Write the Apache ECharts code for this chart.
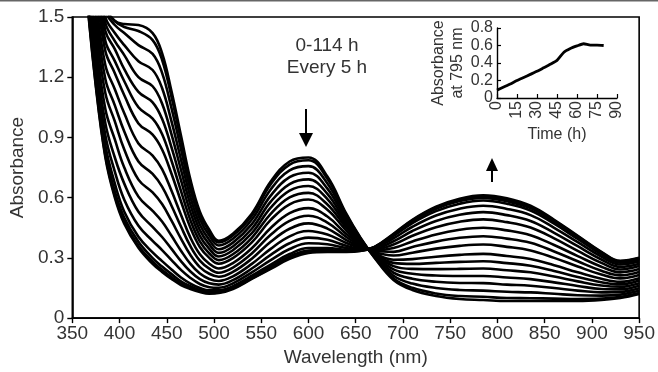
<!DOCTYPE html>
<html><head><meta charset="utf-8">
<script src="https://cdn.jsdelivr.net/npm/echarts@6/dist/echarts.min.js"></script>
<style>html,body{margin:0;padding:0;background:#fff}#c{width:658px;height:372px}</style>
</head><body><div id="c"></div>
<script>
// Wavelength grid (nm)
const wavelengths = [350, 365, 375, 385, 395, 405, 420, 435, 445, 455, 465, 475, 485, 495, 505, 520, 540, 560, 580, 600, 620, 640, 655, 670, 690, 710, 735, 760, 785, 810, 835, 860, 885, 910, 930, 950];

// Spectra, earliest (0 h) to latest
const spec01 = [2.6, 2.2, 1.85, 1.55, 1.48, 1.465, 1.46, 1.42, 1.32, 1.13, 0.91, 0.69, 0.53, 0.44, 0.385, 0.42, 0.52, 0.68, 0.78, 0.80, 0.705, 0.52, 0.40, 0.30, 0.19, 0.14, 0.11, 0.095, 0.09, 0.085, 0.085, 0.085, 0.085, 0.09, 0.10, 0.12];
const spec02 = [2.6, 2.2, 1.85, 1.55, 1.48, 1.45, 1.43, 1.385, 1.287, 1.102, 0.888, 0.674, 0.518, 0.43, 0.377, 0.412, 0.51, 0.667, 0.765, 0.786, 0.694, 0.514, 0.398, 0.302, 0.197, 0.151, 0.123, 0.11, 0.106, 0.1, 0.099, 0.097, 0.095, 0.097, 0.106, 0.125];
const spec03 = [2.6, 2.18, 1.83, 1.53, 1.46, 1.42, 1.36, 1.316, 1.222, 1.046, 0.843, 0.641, 0.494, 0.411, 0.362, 0.395, 0.491, 0.641, 0.736, 0.757, 0.671, 0.503, 0.394, 0.305, 0.211, 0.172, 0.15, 0.14, 0.137, 0.131, 0.128, 0.121, 0.114, 0.112, 0.117, 0.136];
const spec04 = [2.6, 2.16, 1.81, 1.50, 1.42, 1.36, 1.28, 1.236, 1.146, 0.98, 0.791, 0.603, 0.466, 0.389, 0.343, 0.376, 0.468, 0.61, 0.702, 0.724, 0.645, 0.49, 0.39, 0.309, 0.227, 0.196, 0.181, 0.175, 0.174, 0.167, 0.161, 0.15, 0.137, 0.128, 0.13, 0.149];
const spec05 = [2.6, 2.14, 1.77, 1.47, 1.38, 1.31, 1.20, 1.155, 1.069, 0.915, 0.739, 0.565, 0.438, 0.367, 0.325, 0.357, 0.445, 0.58, 0.668, 0.691, 0.619, 0.476, 0.385, 0.313, 0.243, 0.221, 0.212, 0.21, 0.21, 0.202, 0.194, 0.178, 0.16, 0.145, 0.143, 0.161];
const spec06 = [2.6, 2.10, 1.74, 1.43, 1.34, 1.24, 1.127, 1.075, 0.993, 0.85, 0.687, 0.527, 0.41, 0.345, 0.307, 0.338, 0.423, 0.55, 0.635, 0.658, 0.593, 0.463, 0.381, 0.317, 0.259, 0.245, 0.244, 0.245, 0.247, 0.238, 0.228, 0.207, 0.183, 0.162, 0.156, 0.174];
const spec07 = [2.6, 2.07, 1.69, 1.38, 1.28, 1.18, 1.05, 0.994, 0.917, 0.784, 0.634, 0.488, 0.382, 0.322, 0.289, 0.318, 0.40, 0.519, 0.601, 0.624, 0.566, 0.45, 0.376, 0.32, 0.275, 0.27, 0.275, 0.28, 0.283, 0.274, 0.261, 0.235, 0.205, 0.179, 0.168, 0.187];
const spec08 = [2.6, 2.03, 1.65, 1.33, 1.22, 1.11, 0.97, 0.914, 0.84, 0.719, 0.582, 0.45, 0.354, 0.30, 0.271, 0.299, 0.377, 0.489, 0.567, 0.591, 0.54, 0.436, 0.371, 0.324, 0.291, 0.294, 0.306, 0.315, 0.32, 0.309, 0.294, 0.263, 0.228, 0.196, 0.181, 0.199];
const spec09 = [2.5, 1.98, 1.58, 1.26, 1.14, 1.02, 0.87, 0.81, 0.742, 0.634, 0.515, 0.401, 0.318, 0.271, 0.247, 0.274, 0.348, 0.449, 0.523, 0.548, 0.506, 0.419, 0.366, 0.329, 0.312, 0.326, 0.346, 0.36, 0.367, 0.355, 0.337, 0.30, 0.257, 0.217, 0.198, 0.215];
const spec10 = [2.5, 1.92, 1.52, 1.19, 1.06, 0.93, 0.78, 0.718, 0.655, 0.56, 0.456, 0.358, 0.286, 0.246, 0.226, 0.252, 0.322, 0.415, 0.484, 0.51, 0.476, 0.404, 0.36, 0.334, 0.33, 0.354, 0.381, 0.40, 0.408, 0.396, 0.375, 0.332, 0.283, 0.236, 0.213, 0.23];
const spec11 = [2.5, 1.87, 1.45, 1.12, 0.98, 0.84, 0.69, 0.626, 0.568, 0.485, 0.396, 0.314, 0.254, 0.221, 0.206, 0.23, 0.296, 0.38, 0.445, 0.472, 0.446, 0.389, 0.355, 0.338, 0.349, 0.382, 0.417, 0.44, 0.45, 0.437, 0.413, 0.364, 0.309, 0.256, 0.228, 0.244];
const spec12 = [2.5, 1.81, 1.38, 1.04, 0.89, 0.75, 0.605, 0.534, 0.481, 0.41, 0.336, 0.27, 0.222, 0.195, 0.185, 0.208, 0.27, 0.345, 0.407, 0.434, 0.416, 0.374, 0.35, 0.342, 0.367, 0.41, 0.453, 0.48, 0.492, 0.478, 0.451, 0.397, 0.335, 0.275, 0.242, 0.259];
const spec13 = [2.5, 1.75, 1.31, 0.97, 0.80, 0.67, 0.53, 0.454, 0.404, 0.345, 0.284, 0.232, 0.194, 0.173, 0.167, 0.189, 0.247, 0.315, 0.373, 0.401, 0.39, 0.36, 0.345, 0.346, 0.383, 0.434, 0.484, 0.515, 0.528, 0.513, 0.484, 0.425, 0.358, 0.292, 0.255, 0.271];
const spec14 = [2.5, 1.70, 1.25, 0.91, 0.73, 0.59, 0.46, 0.385, 0.339, 0.289, 0.24, 0.20, 0.17, 0.154, 0.151, 0.173, 0.228, 0.289, 0.344, 0.373, 0.368, 0.349, 0.342, 0.35, 0.397, 0.455, 0.511, 0.545, 0.56, 0.544, 0.513, 0.45, 0.378, 0.306, 0.267, 0.282];
const spec15 = [2.5, 1.66, 1.20, 0.86, 0.67, 0.53, 0.405, 0.327, 0.284, 0.242, 0.202, 0.172, 0.15, 0.138, 0.138, 0.159, 0.211, 0.267, 0.319, 0.349, 0.349, 0.34, 0.338, 0.352, 0.409, 0.473, 0.533, 0.57, 0.586, 0.57, 0.536, 0.47, 0.394, 0.318, 0.276, 0.291];
const spec16 = [2.5, 1.64, 1.18, 0.83, 0.63, 0.50, 0.38, 0.299, 0.257, 0.219, 0.183, 0.159, 0.14, 0.13, 0.132, 0.152, 0.203, 0.256, 0.307, 0.337, 0.339, 0.335, 0.337, 0.354, 0.414, 0.481, 0.544, 0.583, 0.599, 0.582, 0.548, 0.48, 0.402, 0.324, 0.28, 0.296];
const spec17 = [2.5, 1.63, 1.16, 0.81, 0.61, 0.48, 0.36, 0.281, 0.241, 0.204, 0.172, 0.15, 0.134, 0.125, 0.128, 0.148, 0.198, 0.249, 0.30, 0.33, 0.334, 0.332, 0.336, 0.354, 0.418, 0.487, 0.551, 0.59, 0.607, 0.59, 0.555, 0.486, 0.407, 0.328, 0.283, 0.298];
const spec18 = [2.5, 1.62, 1.15, 0.80, 0.60, 0.47, 0.35, 0.27, 0.23, 0.195, 0.165, 0.145, 0.13, 0.122, 0.125, 0.145, 0.195, 0.245, 0.295, 0.325, 0.33, 0.33, 0.335, 0.355, 0.42, 0.49, 0.555, 0.595, 0.612, 0.597, 0.56, 0.49, 0.41, 0.33, 0.285, 0.30];
const spectra = [spec01, spec02, spec03, spec04, spec05, spec06, spec07, spec08, spec09, spec10, spec11, spec12, spec13, spec14, spec15, spec16, spec17, spec18];

// Inset: absorbance at 795 nm vs time
const insetTime = [0, 5, 10, 15, 20, 25, 30, 35, 40, 45, 50, 55, 60, 65, 70, 75, 80];
const insetAbs = [0.09, 0.125, 0.16, 0.2, 0.235, 0.27, 0.305, 0.345, 0.385, 0.43, 0.52, 0.565, 0.595, 0.62, 0.605, 0.605, 0.60];

// Annotation texts
const noteLines = ['0-114 h', 'Every 5 h'];

const FONT = "'Liberation Sans', Arial, Helvetica, sans-serif";
const TXT = '#333';

const chart = echarts.init(document.getElementById('c'), null, {renderer: 'canvas'});

const series = spectra.map((s, k) => ({
  type: 'line', xAxisIndex: 0, yAxisIndex: 0,
  data: wavelengths.map((w, i) => [w, s[i]]),
  symbol: 'none', smooth: 0.4,
  lineStyle: {color: '#000', width: 2.6},
  silent: true, animation: false, z: 2
}));
series.push({
  type: 'line', xAxisIndex: 1, yAxisIndex: 1,
  data: insetTime.map((t, i) => [t, insetAbs[i]]),
  symbol: 'none', smooth: 0.2,
  lineStyle: {color: '#000', width: 2.8},
  silent: true, animation: false, z: 3
});

const option = {
  backgroundColor: '#fff',
  animation: false,
  textStyle: {fontFamily: FONT},
  grid: [
    {left: 70, right: 17, top: 17, bottom: 53, show: true, borderColor: '#000', borderWidth: 1.6, backgroundColor: 'transparent'},
    {left: 497, right: 41, top: 28, bottom: 274, show: false}
  ],
  xAxis: [
    {type: 'value', gridIndex: 0, min: 350, max: 950, interval: 50,
     name: 'Wavelength (nm)', nameLocation: 'middle', nameGap: 27,
     nameTextStyle: {fontSize: 19, color: TXT, fontFamily: FONT},
     axisLine: {lineStyle: {color: '#000', width: 1.6}},
     axisTick: {show: true, inside: false, length: 5, lineStyle: {color: '#000', width: 1.4}},
     axisLabel: {fontSize: 19, color: TXT, margin: 6, fontFamily: FONT},
     splitLine: {show: false}},
    {type: 'value', gridIndex: 1, min: 0, max: 90, interval: 15,
     name: 'Time (h)', nameLocation: 'middle', nameGap: 29,
     nameTextStyle: {fontSize: 16, color: TXT, fontFamily: FONT},
     axisLine: {lineStyle: {color: '#000', width: 1.4}},
     axisTick: {show: true, inside: true, length: 4, lineStyle: {color: '#000', width: 1.2}},
     axisLabel: {fontSize: 16, color: TXT, margin: 3, rotate: 90, fontFamily: FONT},
     splitLine: {show: false}}
  ],
  yAxis: [
    {type: 'value', gridIndex: 0, min: 0, max: 1.5, interval: 0.3,
     name: 'Absorbance', nameLocation: 'middle', nameGap: 43,
     nameTextStyle: {fontSize: 19, color: TXT, fontFamily: FONT},
     axisLine: {lineStyle: {color: '#000', width: 1.6}},
     axisTick: {show: true, inside: false, length: 5, lineStyle: {color: '#000', width: 1.4}},
     axisLabel: {fontSize: 19, color: TXT, margin: 8, fontFamily: FONT},
     splitLine: {show: false}},
    {type: 'value', gridIndex: 1, min: 0, max: 0.8, interval: 0.2,
     name: 'Absorbance\nat 795 nm', nameLocation: 'middle', nameGap: 21,
     nameTextStyle: {fontSize: 16, color: TXT, fontFamily: FONT, lineHeight: 19, align: 'center'},
     axisLine: {lineStyle: {color: '#000', width: 1.4}},
     axisTick: {show: true, inside: true, length: 4, lineStyle: {color: '#000', width: 1.2}},
     axisLabel: {fontSize: 16, color: TXT, margin: 4, fontFamily: FONT},
     splitLine: {show: false}}
  ],
  series: series,
  graphic: [
    {type: 'rect', shape: {x: 0, y: 0, width: 658, height: 1.5}, style: {fill: '#666'}, silent: true},
    {type: 'text', x: 327, y: 46, style: {text: noteLines[0], font: "19px " + FONT, fill: TXT, align: 'center', verticalAlign: 'middle'}},
    {type: 'text', x: 327, y: 68, style: {text: noteLines[1], font: "19px " + FONT, fill: TXT, align: 'center', verticalAlign: 'middle'}},
    // down arrow near 600 nm
    {type: 'line', shape: {x1: 306, y1: 109, x2: 306, y2: 136}, style: {stroke: '#000', lineWidth: 2}},
    {type: 'polygon', shape: {points: [[299, 133], [313, 133], [306, 147]]}, style: {fill: '#000'}},
    // up arrow near 790 nm
    {type: 'line', shape: {x1: 492, y1: 168, x2: 492, y2: 182}, style: {stroke: '#000', lineWidth: 2}},
    {type: 'polygon', shape: {points: [[486, 171], [498, 171], [492, 158]]}, style: {fill: '#000'}}
  ]
};
chart.setOption(option);
</script>
</body></html>
